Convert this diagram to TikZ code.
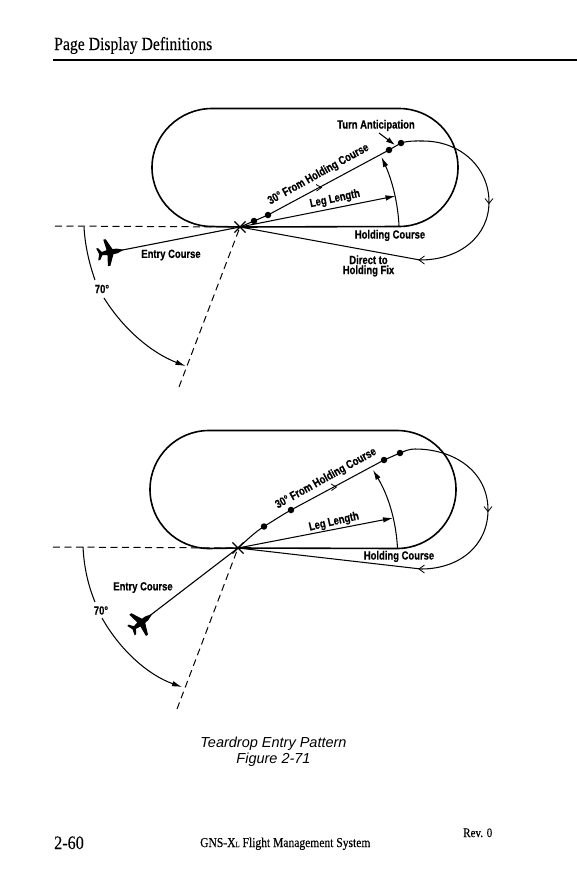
\documentclass[tikz,border=0pt]{standalone}
\usepackage{fontspec}
\setmainfont{Liberation Sans}
\newfontfamily\labfont[FakeStretch=0.8,BoldFeatures={FakeBold=0.5}]{Liberation Sans}
\newfontfamily\headfont[FakeStretch=0.85,FakeBold=0.25]{Liberation Serif}
\usetikzlibrary{arrows.meta,shapes.misc}
\tikzset{
  track/.style={line width=1.6pt,black},
  thinline/.style={line width=1.05pt,black},
  dashline/.style={line width=1pt,black,dash pattern=on 7pt off 4.5pt},
  filledtip/.style={-{Latex[length=10pt,width=5.5pt]}},
  lab/.style={font=\labfont\bfseries\fontsize{11.8}{11.8}\selectfont,inner sep=0pt,black},
  labtwo/.style={lab,align=center,font=\labfont\bfseries\fontsize{11.8}{10}\selectfont},
  wpt/.style={circle,fill=black,inner sep=0pt,minimum size=6.5pt},
  fixmark/.style={cross out,draw=black,line width=1.2pt,inner sep=0pt,minimum size=10pt},
  planeshape/.style={fill=black,draw=none},
  chev/.style={line width=0.8pt,black}
}
\newcommand{\planepath}{
  (13,0) -- (6,-2.4) -- (2,-2.6) -- (-3,-13.5) -- (-5.5,-13.5) -- (-4,-2.6) -- (-9,-1.6) -- (-12,-6) -- (-14,-6) -- (-12,0)
  -- (-14,6) -- (-12,6) -- (-9,1.6) -- (-4,2.6) -- (-5.5,13.5) -- (-3,13.5) -- (2,2.6) -- (6,2.4) -- cycle}
\begin{document}
\begin{tikzpicture}[x=1pt,y=-1pt]
\useasboundingbox (0,0) rectangle (577,892);
\fill[white] (0,0) rectangle (577,892);
% header
\node[anchor=base west,inner sep=0pt,font=\headfont\fontsize{18.5}{18.5}\selectfont] (head) at (54,50) {Page Display Definitions};
\coordinate (ruleL) at (53,59.5); \coordinate (ruleR) at (577,59.5);
\draw[line width=2pt] (ruleL) -- (ruleR);

%%% TOP DIAGRAM
\node[fixmark] (fixA) at (240,227) {};
\coordinate (trA) at (399,226.5);
\draw[track] (fixA.center) -- (trA)
  .. controls (431.6,226.5) and (458,200.1) .. (458,167.5)
  .. controls (458,134.9) and (431.6,108.5) .. (399,108.5)
  -- (212,108.5)
  .. controls (179.4,108.5) and (152,134.9) .. (152,167.5)
  .. controls (152,200.1) and (179.4,226.5) .. (212,226.5) -- (fixA.center);
\coordinate (startA) at (55,226);
\coordinate (rayA) at (179,387);
\draw[dashline] (startA) -- (fixA.center);
\draw[dashline] (rayA) -- (fixA.center);
% plane + entry
\begin{scope}[shift={(111,252)},rotate=10]
  \fill[planeshape] \planepath;
\end{scope}
\coordinate (planeA) at (120,250.5);
\draw[line width=1.1pt] (planeA) -- (fixA.center);
% outbound
\node[wpt] (a1) at (254,221) {};
\node[wpt] (a2) at (268,215) {};
\node[wpt] (a3) at (389,150) {};
\node[wpt] (a4) at (401,143) {};
\coordinate (a5) at (423,141);
\coordinate (a6) at (489,202);
\coordinate (a7) at (420,260);
\draw[thinline] (fixA.center) -- (a1.center) -- (a2.center) -- (a3.center) -- (a4.center)
  .. controls (409,140.5) and (416,141) .. (a5)
  .. controls (461,141) and (489,168) .. (a6)
  .. controls (489,236) and (460,260) .. (a7) -- (fixA.center);
\draw[chev] (485,198.5) -- (489,203.5) -- (493,198.5);
\draw[chev] (424.5,256) -- (419,260) -- (424.5,264);
\draw[chev] (316,184.5) -- (321.5,187.5) -- (316.5,191);
% leg length
\coordinate (legA) at (395.5,196);
\draw[thinline,filledtip] (fixA.center) -- (legA);
\coordinate (arcA) at (399,226);
\coordinate (arcTipA) at (381.5,157);
\draw[thinline,filledtip] (arcA) .. controls (398,203) and (392,180) .. (arcTipA);
% turn anticipation
\coordinate (taA) at (379,133);
\coordinate (taB) at (395,145);
\draw[thinline,-{Latex[length=9pt,width=5.5pt]}] (taA) -- (taB);
% 70 deg
\draw[thinline] (84,227) .. controls (85,245) and (89,263) .. (95,280);
\coordinate (sA) at (104,298); \coordinate (eA) at (185.5,366);
\draw[thinline,filledtip] (sA) .. controls (124,330) and (152,353) .. (eA);
% labels
\node[lab] (tA1) at (376,125.5) {Turn Anticipation};
\node[lab,rotate=29] (tA2) at (318.5,174.5) {30° From Holding Course};
\node[lab,rotate=12] (tA3) at (335,199) {Leg Length};
\node[lab] (tA4) at (390,235.5) {Holding Course};
\node[labtwo] (tA5) at (368.5,266) {Direct to\\Holding Fix};
\node[lab] (tA6) at (171,255) {Entry Course};
\node[lab] (tA7) at (102,289) {70°};

%%% BOTTOM DIAGRAM
\node[fixmark] (fixB) at (238,548) {};
\coordinate (trB) at (397,548.5);
\draw[track] (fixB.center) -- (trB)
  .. controls (429.6,548.5) and (456,522.1) .. (456,489.5)
  .. controls (456,456.9) and (429.6,430.5) .. (397,430.5)
  -- (209,430.5)
  .. controls (176.4,430.5) and (150,456.9) .. (150,489.5)
  .. controls (150,522.1) and (176.4,548.5) .. (209,548.5) -- (fixB.center);
\coordinate (startB) at (53,547);
\coordinate (rayB) at (177,709);
\draw[dashline] (startB) -- (fixB.center);
\draw[dashline] (rayB) -- (fixB.center);
\begin{scope}[shift={(142,622)},rotate=38]
  \fill[planeshape] \planepath;
\end{scope}
\coordinate (planeB) at (150,615.5);
\draw[line width=1.1pt] (planeB) -- (fixB.center);
\node[wpt] (b1) at (264,526.5) {};
\node[wpt] (b2) at (291,510) {};
\node[wpt] (b3) at (384,460) {};
\node[wpt] (b4) at (400,453) {};
\coordinate (b5) at (415,449);
\coordinate (b6) at (488,510);
\coordinate (b7) at (421,569);
\draw[thinline] (fixB.center) .. controls (247,540) and (255,532) .. (b1.center)
  .. controls (273,521) and (282,515) .. (b2.center) -- (b3.center) -- (b4.center)
  .. controls (405,451) and (409,449) .. (b5)
  .. controls (455,449) and (488,472) .. (b6)
  .. controls (488,545) and (460,569) .. (b7) -- (fixB.center);
\draw[chev] (484,506.5) -- (488,511.5) -- (492,506.5);
\draw[chev] (424.5,565) -- (419,569) -- (424.5,573);
\draw[chev] (331,484) -- (336.5,487) -- (331.5,490.5);
\coordinate (legB) at (393,518);
\draw[thinline,filledtip] (fixB.center) -- (legB);
\coordinate (arcB) at (397.5,548);
\coordinate (arcTipB) at (373,470);
\draw[thinline,filledtip] (arcB) .. controls (396,520) and (388,495) .. (arcTipB);
\draw[thinline] (83,547) .. controls (84,567) and (88,585) .. (95,602);
\coordinate (sB) at (102,618); \coordinate (eB) at (182,687);
\draw[thinline,filledtip] (sB) .. controls (120,650) and (148,675) .. (eB);
\node[lab,rotate=29] (tB2) at (326,478.5) {30° From Holding Course};
\node[lab,rotate=13] (tB3) at (334,522) {Leg Length};
\node[lab] (tB4) at (399,556.5) {Holding Course};
\node[lab] (tB6) at (143,587.5) {Entry Course};
\node[lab] (tB7) at (101,610.5) {70°};

% caption
\node[inner sep=0pt,align=center,font=\itshape\fontsize{14.5}{16}\selectfont] (cap) at (273.5,751.5) {Teardrop Entry Pattern\\Figure 2-71};
% footer
\node[anchor=base west,inner sep=0pt,font=\headfont\fontsize{19}{19}\selectfont] (f1) at (54,849) {2-60};
\node[anchor=base west,inner sep=0pt,font=\headfont\fontsize{13.6}{13.6}\selectfont] (f2) at (200,847) {GNS-X\fontsize{8}{8}\selectfont L\fontsize{13.6}{13.6}\selectfont\ Flight Management System};
\node[anchor=base west,inner sep=0pt,font=\headfont\fontsize{13}{13}\selectfont] (f3) at (463,837) {Rev. 0};
\end{tikzpicture}
\end{document}
